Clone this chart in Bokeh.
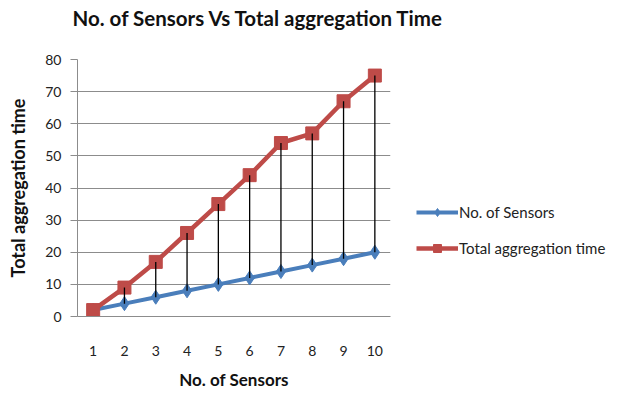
from bokeh.plotting import figure
from bokeh.layouts import row, column
from bokeh.models import Legend, LegendItem, FixedTicker, Range1d
from bokeh.embed import file_html
from bokeh.resources import INLINE

sensors = [1, 2, 3, 4, 5, 6, 7, 8, 9, 10]
no_of_sensors = [2, 4, 6, 8, 10, 12, 14, 16, 18, 20]
total_time = [2, 9, 17, 26, 35, 44, 54, 57, 67, 75]
y_ticks = [0, 10, 20, 30, 40, 50, 60, 70, 80]
series_names = ["No. of Sensors", "Total aggregation time"]
chart_title = "No. of Sensors Vs Total aggregation Time"

FONT = "Lato"
BLUE = "#4A7EBB"
RED = "#BE4B48"

# title strip
tf = figure(width=608, height=44, output_backend="svg", toolbar_location=None,
            x_range=Range1d(0, 1), y_range=Range1d(0, 1),
            min_border_left=0, min_border_right=0, min_border_top=0, min_border_bottom=0)
tf.axis.visible = False
tf.grid.visible = False
tf.outline_line_color = None
tf.title.text = chart_title
tf.title.text_font = FONT
tf.title.text_font_size = "20.5px"
tf.title.text_font_style = "bold"
tf.title.text_color = "#111111"
tf.title.align = "left"
tf.title.offset = 72
tf.title.standoff = 0
tf.title.padding = dict(left=0, right=0, top=3, bottom=0)

p = figure(width=400, height=348, output_backend="svg", toolbar_location=None,
           x_range=Range1d(0.5, 10.5), y_range=Range1d(0, 80),
           min_border_left=77, min_border_right=10, min_border_top=15, min_border_bottom=75)

p.outline_line_color = None
p.background_fill_color = "white"
p.border_fill_color = "white"

p.xgrid.grid_line_color = None
p.ygrid.grid_line_color = "#8c8c8c"
p.ygrid.grid_line_width = 1
p.ygrid.ticker = FixedTicker(ticks=y_ticks)

p.yaxis.ticker = FixedTicker(ticks=y_ticks)
p.yaxis.axis_line_color = "#8c8c8c"
p.yaxis.major_tick_line_color = "#8c8c8c"
p.yaxis.major_tick_out = 7
p.yaxis.major_tick_in = 0
p.yaxis.minor_tick_line_color = None
p.yaxis.major_label_text_font = FONT
p.yaxis.major_label_text_font_size = "14px"
p.yaxis.major_label_text_color = "#222222"
p.yaxis.major_label_standoff = 9
p.yaxis.axis_label = "Total aggregation time"
p.yaxis.axis_label_text_font = FONT
p.yaxis.axis_label_text_font_size = "18px"
p.yaxis.axis_label_text_font_style = "bold"
p.yaxis.axis_label_text_color = "#111111"
p.yaxis.axis_label_standoff = 13

p.xaxis.ticker = FixedTicker(ticks=sensors)
p.xaxis.axis_line_color = "#8c8c8c"
p.xaxis.major_tick_line_color = None
p.xaxis.minor_tick_line_color = None
p.xaxis.major_label_text_font = FONT
p.xaxis.major_label_text_font_size = "14px"
p.xaxis.major_label_text_color = "#222222"
p.xaxis.major_label_standoff = 23
p.xaxis.axis_label = "No. of Sensors"
p.xaxis.axis_label_text_font = FONT
p.xaxis.axis_label_text_font_size = "17px"
p.xaxis.axis_label_text_font_style = "bold"
p.xaxis.axis_label_text_color = "#111111"
p.xaxis.axis_label_standoff = 10

p.line(sensors, no_of_sensors, line_color=BLUE, line_width=4)
p.scatter(sensors, no_of_sensors, marker="diamond", size=14, fill_color=BLUE, line_color=BLUE)
p.line(sensors, total_time, line_color=RED, line_width=4.5)
p.scatter(sensors, total_time, marker="square", size=13, fill_color=RED, line_color=RED)

p.segment(x0=sensors, y0=total_time, x1=sensors, y1=no_of_sensors, line_color="black", line_width=1.3)

# legend panel (separate figure so the legend sits outside the plot area);
# its ranges exclude the data, so only the legend swatches show
lg = figure(width=208, height=348, output_backend="svg", toolbar_location=None,
            x_range=Range1d(-1, 0), y_range=Range1d(-1, 0),
            min_border_left=0, min_border_right=0, min_border_top=0, min_border_bottom=0)
lg.axis.visible = False
lg.grid.visible = False
lg.outline_line_color = None
bl = lg.line(sensors, no_of_sensors, line_color=BLUE, line_width=4)
bm = lg.scatter(sensors, no_of_sensors, marker="diamond", size=14, fill_color=BLUE, line_color=BLUE)
rl = lg.line(sensors, total_time, line_color=RED, line_width=4.5)
rm = lg.scatter(sensors, total_time, marker="square", size=13, fill_color=RED, line_color=RED)

legend = Legend(items=[
    LegendItem(label=series_names[0], renderers=[bl, bm]),
    LegendItem(label=series_names[1], renderers=[rl, rm]),
], location=(16, 58))
legend.border_line_color = None
legend.background_fill_alpha = 0
legend.padding = 0
legend.margin = 0
legend.spacing = 16
legend.glyph_width = 42
legend.glyph_height = 20
legend.label_height = 20
legend.label_standoff = 1
legend.label_text_font = FONT
legend.label_text_font_size = "15px"
legend.label_text_color = "#222222"
lg.add_layout(legend, "center")

open("out.html", "w").write(file_html(column(tf, row(p, lg)), INLINE))
